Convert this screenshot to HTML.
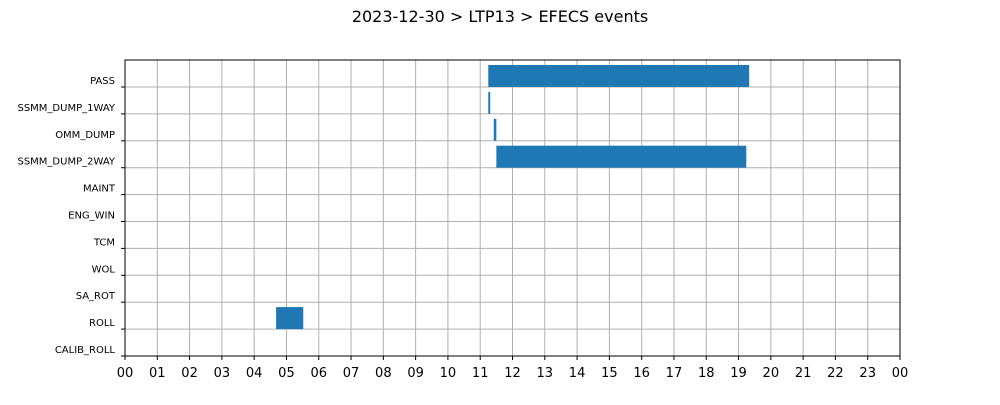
<!DOCTYPE html>
<html><head><meta charset="utf-8"><style>
body{margin:0;background:#fff;width:1000px;height:400px;overflow:hidden;font-family:"Liberation Sans","DejaVu Sans",sans-serif}
</style></head><body>
<svg id="chart" width="1000" height="400" xmlns="http://www.w3.org/2000/svg">
<text x="500" y="22" text-anchor="middle" font-size="16" font-family="DejaVu Sans, Liberation Sans, sans-serif">2023-12-30 &gt; LTP13 &gt; EFECS events</text>
<g id="grid"></g><g id="bars"></g><g id="axes"></g>
</svg>
<script>
const categories=["PASS","SSMM_DUMP_1WAY","OMM_DUMP","SSMM_DUMP_2WAY","MAINT","ENG_WIN","TCM","WOL","SA_ROT","ROLL","CALIB_ROLL"];
const eventCats=["PASS","SSMM_DUMP_1WAY","OMM_DUMP","SSMM_DUMP_2WAY","ROLL"];
const eventStart=[11.25,11.25,11.42,11.5,4.68];
const eventEnd=[19.33,11.31,11.5,19.24,5.52];
const hourTicks=["00","01","02","03","04","05","06","07","08","09","10","11","12","13","14","15","16","17","18","19","20","21","22","23","00"];
const NS="http://www.w3.org/2000/svg";
const L=125,R=900,T=60,B=356;
const x=h=>L+(R-L)*h/24;
const y=i=>87+i*(B-87)/(categories.length-1);
function mk(tag,attrs,parent){const e=document.createElementNS(NS,tag);for(const k in attrs)e.setAttribute(k,attrs[k]);parent.appendChild(e);return e;}
const grid=document.getElementById('grid'),bars=document.getElementById('bars'),axes=document.getElementById('axes');
hourTicks.forEach((t,i)=>{
 const g=mk('line',{x1:x(i),x2:x(i),y1:T,y2:B,stroke:'#b0b0b0','stroke-width':1},grid);
 
 
 const tk=mk('line',{x1:x(i),x2:x(i),y1:B,y2:B+4,stroke:'#000'},axes);
 
 
 const lb=mk('text',{x:x(i),y:B+21,'text-anchor':'middle','font-size':13,'font-family':'DejaVu Sans, Liberation Sans, sans-serif'},axes);
 lb.textContent=t;
 
 
});
categories.forEach((c,i)=>{
 const g=mk('line',{x1:L,x2:R,y1:y(i),y2:y(i),stroke:'#b0b0b0','stroke-width':1},grid);
 
 
 const tk=mk('line',{x1:L-4,x2:L,y1:y(i),y2:y(i),stroke:'#000'},axes);
 
 
 const lb=mk('text',{x:L-10,y:y(i)-3,'text-anchor':'end','font-size':10,'font-family':'DejaVu Sans, Liberation Sans, sans-serif'},axes);
 lb.textContent=c;
 
 
});
eventCats.forEach((c,k)=>{
 const i=categories.indexOf(c);
 const r=mk('rect',{x:x(eventStart[k]),y:y(i)-22,width:Math.max(1.5,x(eventEnd[k])-x(eventStart[k])),height:22,fill:'#1f77b4'},bars);
 
 
});
const f=mk('rect',{x:L,y:T,width:R-L,height:B-T,fill:'none',stroke:'#000','stroke-width':1},axes);


</script>
</body></html>
